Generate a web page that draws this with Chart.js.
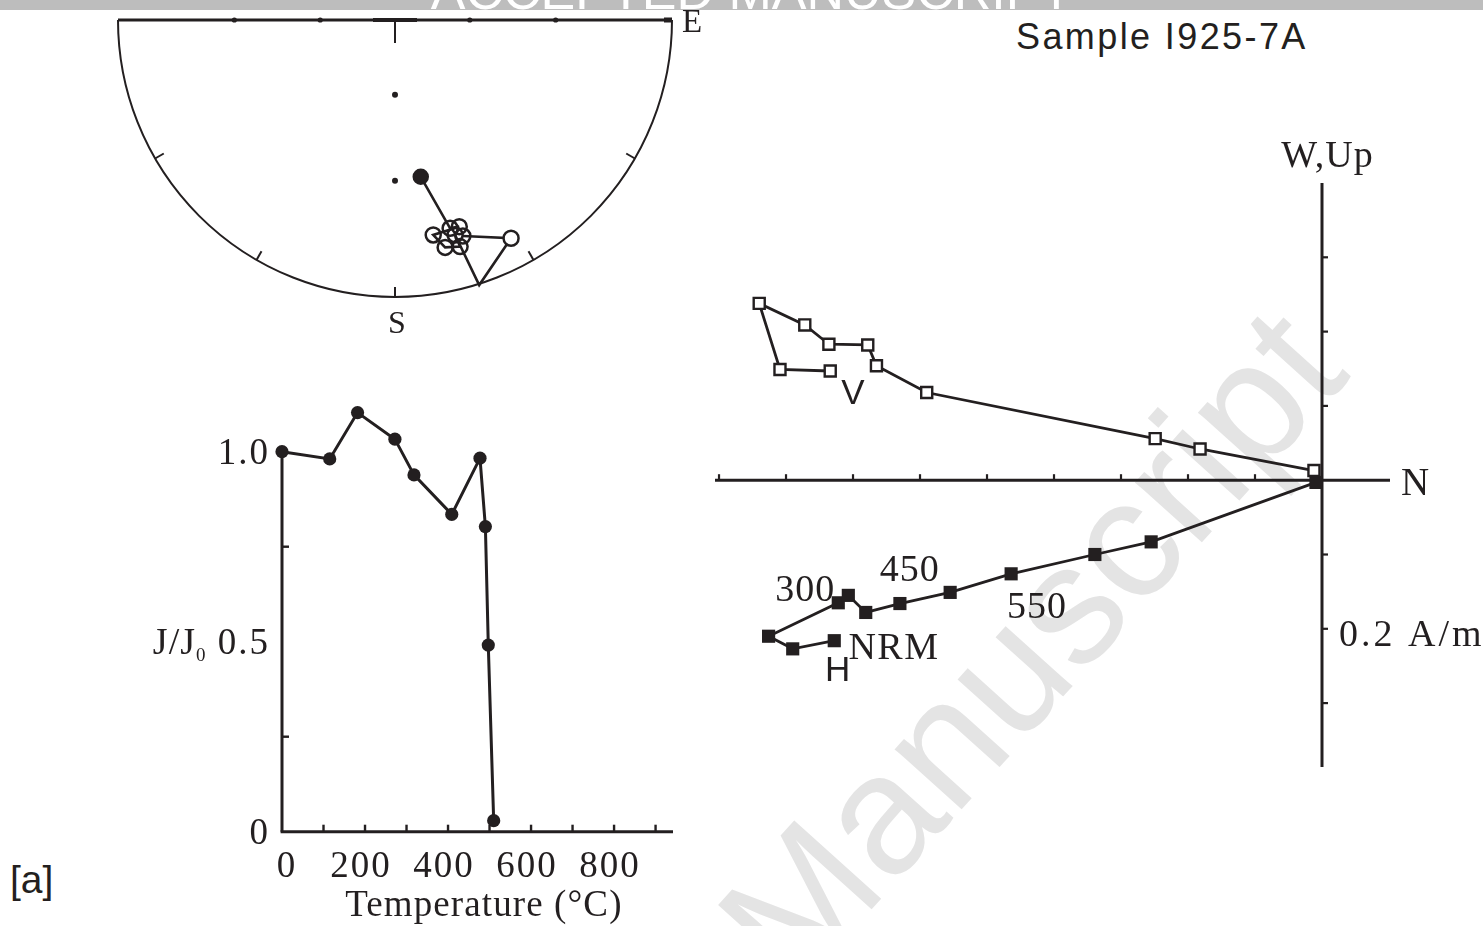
<!DOCTYPE html>
<html><head><meta charset="utf-8">
<script src="https://cdn.jsdelivr.net/npm/chart.js@4.4.0/dist/chart.umd.min.js"></script>
<style>
html,body{margin:0;padding:0;background:#fff;width:1483px;height:926px;overflow:hidden;position:relative;}
canvas{position:absolute;}
#banner{position:absolute;left:0;top:0;width:1483px;height:10px;background:#bdbdbd;overflow:hidden;}
#banner span{position:absolute;left:10px;width:1483px;text-align:center;top:-35px;font:52px "Liberation Sans";color:#fff;line-height:52px;white-space:nowrap;}
#wm{position:absolute;font:170px "Liberation Sans";color:#e4e4e4;white-space:nowrap;left:1030px;top:645px;transform:translate(-50%,-50%) rotate(-48deg);}
</style></head>
<body>
<div id="banner"><span>ACCEPTED MANUSCRIPT</span></div>
<div id="wm">Manuscript</div>
<canvas id="stereo" width="620" height="345" style="left:100px;top:0px"></canvas>
<canvas id="demag" width="550" height="566" style="left:150px;top:360px"></canvas>
<canvas id="zij" width="783" height="660" style="left:700px;top:130px"></canvas>
<script>
// ---------------- DATA ----------------
// Stereonet (equal-angle projection units, radius = 1)
const stereoX = [0.093, 0.199, 0.232, 0.138, 0.181, 0.235, 0.217, 0.304, 0.419, 0.245];
const stereoY = [-0.566, -0.752, -0.746, -0.776, -0.821, -0.818, -0.776, -0.957, -0.788, -0.780];
const stereoMarker = ['filled', 'open', 'open', 'open', 'open', 'open', 'open', 'none', 'openWhite', 'open'];
const stereoIncMarks = [0.27, 0.58];
const stereoRimTicksDeg = [30, 60, 90, 120, 150];

// Normalised intensity decay
const tempC = [0, 115, 182, 272, 318, 409, 477, 490, 497, 510];
const jRatio = [1.0, 0.981, 1.103, 1.033, 0.939, 0.835, 0.983, 0.803, 0.491, 0.029];
const tempTicks = [100, 200, 300, 400, 500, 600, 700, 800, 900];
const tempTickLabels = [0, 200, 400, 600, 800];
const jTicks = [0.25, 0.75];
const jTickLabels = [[0, '0'], [0.5, '0.5'], [1.0, '1.0']];

// Zijderveld diagram (A/m)
const vertN = [-0.734, -0.809, -0.840, -0.772, -0.736, -0.678, -0.665, -0.590, -0.249, -0.182, -0.012];
const vertUp = [0.147, 0.149, 0.238, 0.209, 0.183, 0.182, 0.154, 0.118, 0.056, 0.042, 0.013];
const horN = [-0.728, -0.790, -0.826, -0.722, -0.707, -0.681, -0.630, -0.555, -0.464, -0.339, -0.255, -0.009];
const horW = [-0.216, -0.227, -0.210, -0.165, -0.155, -0.178, -0.166, -0.151, -0.126, -0.100, -0.083, -0.003];
const zijNTicks = [-0.9, -0.8, -0.7, -0.6, -0.5, -0.4, -0.3, -0.2, -0.1];
const zijUpTicks = [0.3, 0.2, 0.1, -0.1, -0.2, -0.3];

// ---------------- HELPERS ----------------
const INK = '#231f20';
const SERIF = '"Liberation Serif", "Times New Roman", serif';
const SANS = '"Liberation Sans", Arial, sans-serif';
function txt(ctx, s, x, y, font, align, spacing) {
  ctx.save();
  ctx.font = font; ctx.fillStyle = INK; ctx.textAlign = align || 'center'; ctx.textBaseline = 'alphabetic';
  if (spacing) { ctx.letterSpacing = spacing + 'px'; if (align === 'center') x += spacing / 2; else if (align === 'right') x += spacing; }
  ctx.fillText(s, x, y);
  ctx.restore();
}
function line(ctx, x1, y1, x2, y2, w) {
  ctx.save(); ctx.strokeStyle = INK; ctx.lineWidth = w; ctx.lineCap = 'butt';
  ctx.beginPath(); ctx.moveTo(x1, y1); ctx.lineTo(x2, y2); ctx.stroke(); ctx.restore();
}
function dot(ctx, x, y, r) {
  ctx.save(); ctx.fillStyle = INK; ctx.beginPath(); ctx.arc(x, y, r, 0, Math.PI * 2); ctx.fill(); ctx.restore();
}
const baseOpts = (pad, xr, yr) => ({
  responsive: false, animation: false, devicePixelRatio: 1,
  layout: { padding: pad },
  plugins: { legend: { display: false }, tooltip: { enabled: false } },
  scales: {
    x: { type: 'linear', display: false, min: xr[0], max: xr[1] },
    y: { type: 'linear', display: false, min: yr[0], max: yr[1] }
  }
});

// ---------------- STEREONET ----------------
const stereoFrame = {
  id: 'stereoFrame',
  beforeDatasetsDraw(chart) {
    const ctx = chart.ctx, sx = chart.scales.x, sy = chart.scales.y;
    const cx = sx.getPixelForValue(0), cy = sy.getPixelForValue(0);
    const R = sx.getPixelForValue(1) - cx;
    ctx.save(); ctx.strokeStyle = INK; ctx.lineWidth = 2;
    ctx.beginPath(); ctx.arc(cx, cy, R, 0, Math.PI); ctx.stroke(); ctx.restore();
    line(ctx, sx.getPixelForValue(-1), cy, sx.getPixelForValue(1), cy, 3);
    line(ctx, cx - 22, cy, cx + 22, cy, 4);
    line(ctx, cx, cy, cx, cy + 23, 2);
    ctx.save(); ctx.fillStyle = INK; ctx.fillRect(sx.getPixelForValue(1) - 8, cy - 2.5, 8, 5); ctx.restore();
    stereoIncMarks.forEach(m => {
      dot(ctx, sx.getPixelForValue(m), cy, 2.6);
      dot(ctx, sx.getPixelForValue(-m), cy, 2.6);
      dot(ctx, cx, sy.getPixelForValue(-m), 3);
    });
    stereoRimTicksDeg.forEach(d => {
      const a = d * Math.PI / 180;
      const ux = Math.cos(a), uy = Math.sin(a);
      line(ctx, cx + ux * R, cy + uy * R, cx + ux * (R - 10), cy + uy * (R - 10), 2);
    });
  },
  afterDraw(chart) {
    const ctx = chart.ctx, sx = chart.scales.x, sy = chart.scales.y;
    txt(ctx, 'E', sx.getPixelForValue(1) + 10, sy.getPixelForValue(0) + 12, '33px ' + SERIF, 'left');
    txt(ctx, 'S', sx.getPixelForValue(0) + 2, sy.getPixelForValue(-1) + 36, '32px ' + SERIF, 'center');
  }
};
new Chart(document.getElementById('stereo'), {
  type: 'scatter',
  data: {
    datasets: [{
      data: stereoX.map((x, i) => ({ x: x, y: stereoY[i] })),
      showLine: true, borderColor: INK, borderWidth: 2.6, clip: false,
      pointRadius: stereoMarker.map(m => m === 'none' ? 0 : (m === 'filled' ? 7 : 7.5)),
      pointBorderWidth: 2.5,
      pointBorderColor: INK,
      pointBackgroundColor: stereoMarker.map(m => m === 'filled' ? INK : (m === 'openWhite' ? '#fff' : 'rgba(0,0,0,0)'))
    }]
  },
  options: baseOpts({ left: 18, right: 48, top: 20, bottom: 48 }, [-1, 1], [-1, 0]),
  plugins: [stereoFrame]
});

// ---------------- DEMAGNETISATION CURVE ----------------
const demagFrame = {
  id: 'demagFrame',
  beforeDatasetsDraw(chart) {
    const ctx = chart.ctx, sx = chart.scales.x, sy = chart.scales.y;
    const x0 = sx.getPixelForValue(0), y0 = sy.getPixelForValue(0);
    line(ctx, x0 - 1.4, y0, sx.getPixelForValue(sx.max), y0, 3);
    line(ctx, x0, y0, x0, sy.getPixelForValue(1.0), 3);
    tempTicks.forEach(t => { const p = sx.getPixelForValue(t); line(ctx, p, y0, p, y0 - 7, 2.4); });
    jTicks.forEach(v => { const p = sy.getPixelForValue(v); line(ctx, x0, p, x0 + 7, p, 2.4); });
  },
  afterDraw(chart) {
    const ctx = chart.ctx, sx = chart.scales.x, sy = chart.scales.y;
    const x0 = sx.getPixelForValue(0), y0 = sy.getPixelForValue(0);
    const f = '37px ' + SERIF;
    tempTickLabels.forEach(t => txt(ctx, String(t), sx.getPixelForValue(t) + (t === 0 ? 4 : -5), y0 + 45, f, 'center', 2));
    jTickLabels.forEach(([v, s]) => txt(ctx, s, x0 - 14, sy.getPixelForValue(v) + 12, f, 'right', 2));
    txt(ctx, 'J/J', x0 - 87, sy.getPixelForValue(0.5) + 12, '38px ' + SERIF, 'right', 1);
    txt(ctx, '0', x0 - 86, sy.getPixelForValue(0.5) + 19, '19px ' + SERIF, 'left');
    txt(ctx, 'Temperature (°C)', sx.getPixelForValue(485), y0 + 84, '37px ' + SERIF, 'center', 1.1);
  }
};
new Chart(document.getElementById('demag'), {
  type: 'scatter',
  data: {
    datasets: [{
      data: tempC.map((t, i) => ({ x: t, y: jRatio[i] })),
      showLine: true, borderColor: INK, borderWidth: 3, clip: false,
      pointRadius: 6.6, pointBorderWidth: 0, pointBackgroundColor: INK
    }]
  },
  options: baseOpts({ left: 132, right: 27, top: 15.7, bottom: 94.3 }, [0, 942], [0, 1.2]),
  plugins: [demagFrame]
});

// ---------------- ZIJDERVELD ----------------
const zijFrame = {
  id: 'zijFrame',
  beforeDatasetsDraw(chart) {
    const ctx = chart.ctx, sx = chart.scales.x, sy = chart.scales.y;
    const ox = sx.getPixelForValue(0), oy = sy.getPixelForValue(0);
    line(ctx, sx.getPixelForValue(sx.min), oy, sx.getPixelForValue(sx.max), oy, 3);
    line(ctx, ox, sy.getPixelForValue(sy.max), ox, sy.getPixelForValue(sy.min), 3);
    zijNTicks.forEach(v => { const p = sx.getPixelForValue(v); line(ctx, p, oy, p, oy - 6, 2.2); });
    zijUpTicks.forEach(v => { const p = sy.getPixelForValue(v); line(ctx, ox, p, ox + 6, p, 2.2); });
  },
  afterDraw(chart) {
    const ctx = chart.ctx, sx = chart.scales.x, sy = chart.scales.y;
    const ox = sx.getPixelForValue(0), oy = sy.getPixelForValue(0);
    const f = '38px ' + SERIF;
    txt(ctx, 'W,Up', ox + 5, sy.getPixelForValue(sy.max) - 16, f, 'center', 1);
    txt(ctx, 'N', ox + 93, oy + 15, '39px ' + SERIF, 'center');
    txt(ctx, '0.2 A/m', ox + 17, sy.getPixelForValue(-0.2) + 17, f, 'left', 3);
    txt(ctx, 'V', sx.getPixelForValue(-0.7), sy.getPixelForValue(0.102), '35px ' + SANS, 'center');
    txt(ctx, 'H', sx.getPixelForValue(-0.723), sy.getPixelForValue(-0.270), '35px ' + SANS, 'center');
    txt(ctx, 'NRM', sx.getPixelForValue(-0.64), sy.getPixelForValue(-0.240), f, 'center', 1.5);
    txt(ctx, '300', sx.getPixelForValue(-0.772), sy.getPixelForValue(-0.162), f, 'center', 1);
    txt(ctx, '450', sx.getPixelForValue(-0.616), sy.getPixelForValue(-0.136), f, 'center', 1);
    txt(ctx, '550', sx.getPixelForValue(-0.426), sy.getPixelForValue(-0.186), f, 'center', 1);
  }
};
new Chart(document.getElementById('zij'), {
  type: 'scatter',
  data: {
    datasets: [
      {
        data: vertN.map((n, i) => ({ x: n, y: vertUp[i] })),
        showLine: true, borderColor: INK, borderWidth: 2.8, clip: false,
        pointStyle: 'rect', pointRadius: 7.8, pointBorderWidth: 2.4,
        pointBorderColor: INK, pointBackgroundColor: '#fff'
      },
      {
        data: horN.map((n, i) => ({ x: n, y: horW[i] })),
        showLine: true, borderColor: INK, borderWidth: 2.8, clip: false,
        pointStyle: 'rect', pointRadius: 9.3, pointBorderWidth: 0,
        pointBorderColor: INK, pointBackgroundColor: INK
      }
    ]
  },
  options: baseOpts({ left: 15, right: 93, top: 53, bottom: 23 }, [-0.906, 0.1015], [-0.386, 0.4]),
  plugins: [zijFrame]
});
</script>
<div style="position:absolute;left:1016px;top:19px;font:36px 'Liberation Sans';letter-spacing:2.4px;color:#231f20;white-space:nowrap;line-height:36px;">Sample I925-7A</div>
<div style="position:absolute;left:10px;top:860px;font:39px 'Liberation Sans';color:#231f20;white-space:nowrap;line-height:39px;">[a]</div>
</body></html>
